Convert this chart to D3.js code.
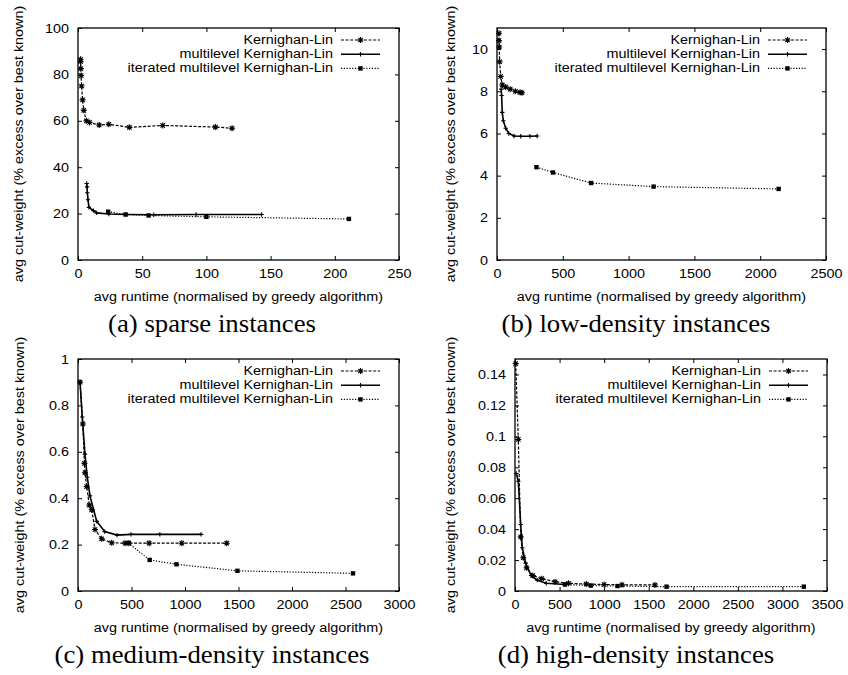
<!DOCTYPE html>
<html>
<head>
<meta charset="utf-8">
<script src="https://cdn.jsdelivr.net/npm/d3@7"></script>
<style>
  body { margin: 0; background: #fff; }
  svg { display: block; }
  .tick-label, .axis-title, .legend-text { font-family: "Liberation Sans", Arial, sans-serif; font-size: 12.5px; fill: #000; }
  .caption { font-family: "Liberation Serif", "Times New Roman", serif; font-size: 25px; fill: #000; }
</style>
</head>
<body>
<svg id="chart" width="848" height="675"></svg>
<script>
// ---- data: [runtime, cut-weight] ----
const seriesNames = ["Kernighan-Lin", "multilevel Kernighan-Lin", "iterated multilevel Kernighan-Lin"];

const sparseKL   = [[2,86.5],[2,85.5],[2.2,82.5],[2.4,79.5],[2.8,75],[3.6,69],[4.5,64.5],[6.5,60],[9,59.3],[16.5,58.2],[24,58.5],[40,57.2],[66,58],[107,57.3],[120,56.8]];
const sparseML   = [[6.8,33],[7,31.5],[7.3,29],[7.8,26],[8.5,22.7],[12,21.3],[14.5,20.3],[24,19.8],[38,19.6],[59,19.5],[92,19.6],[143,19.6]];
const sparseIter = [[23.5,20.8],[37,19.6],[55,19.2],[100,18.6],[211,17.7]];

const lowKL   = [[15,10.75],[15,10.4],[17,10.1],[20,9.4],[28,8.7],[40,8.3],[66,8.2],[100,8.1],[140,8.0],[175,7.95],[190,7.93]];
const lowML   = [[32,8.1],[35,7.8],[40,7.0],[48,6.6],[66,6.25],[90,6.0],[130,5.88],[180,5.87],[250,5.87],[305,5.88]];
const lowIter = [[300,4.4],[425,4.15],[715,3.65],[1190,3.48],[2140,3.37]];

const medKL   = [[19,0.9],[45,0.72],[60,0.55],[65,0.51],[81,0.45],[106,0.37],[128,0.35],[159,0.265],[221,0.225],[315,0.208],[440,0.206],[475,0.206],[665,0.206],[970,0.206],[1390,0.206]];
const medML   = [[19,0.9],[40,0.75],[65,0.59],[87,0.49],[112,0.41],[175,0.3],[250,0.256],[365,0.241],[495,0.244],[765,0.244],[1150,0.244]];
const medIter = [[470,0.207],[670,0.134],[920,0.115],[1490,0.087],[2570,0.076]];

const highKL   = [[8,0.147],[37,0.098],[64,0.035],[93,0.0215],[130,0.015],[200,0.01],[300,0.008],[450,0.006],[600,0.005],[800,0.0045],[1000,0.0042],[1200,0.004],[1570,0.0039]];
const highML   = [[15,0.076],[37,0.071],[64,0.043],[82,0.028],[120,0.018],[180,0.01],[250,0.007],[350,0.005],[560,0.0042]];
const highIter = [[560,0.0042],[850,0.0035],[1150,0.0032],[1700,0.0028],[3240,0.0028]];

const sparseXTicks = [0, 50, 100, 150, 200, 250];
const sparseYTicks = [0, 20, 40, 60, 80, 100];
const lowXTicks = [0, 500, 1000, 1500, 2000, 2500];
const lowYTicks = [0, 2, 4, 6, 8, 10];
const medXTicks = [0, 500, 1000, 1500, 2000, 2500, 3000];
const medYTicks = [0, 0.2, 0.4, 0.6, 0.8, 1];
const highXTicks = [0, 500, 1000, 1500, 2000, 2500, 3000, 3500];
const highYTicks = [0, 0.02, 0.04, 0.06, 0.08, 0.1, 0.12, 0.14];

const xTitle = "avg runtime (normalised by greedy algorithm)";
const yTitle = "avg cut-weight (% excess over best known)";

// layout of the four sub-figures
const panels = [
  {box: [78, 399, 28, 260],  xMax: 250,  yMax: 100,  xTicks: sparseXTicks, yTicks: sparseYTicks, series: [sparseKL, sparseML, sparseIter], yTitleX: 19,  capX: 212, caption: "(a) sparse instances"},
  {box: [497, 826, 28, 260], xMax: 2500, yMax: 11,   xTicks: lowXTicks,    yTicks: lowYTicks,    series: [lowKL, lowML, lowIter],          yTitleX: 451, capX: 636, caption: "(b) low-density instances"},
  {box: [78, 399, 359, 591], xMax: 3000, yMax: 1,    xTicks: medXTicks,    yTicks: medYTicks,    series: [medKL, medML, medIter],          yTitleX: 20,  capX: 212, caption: "(c) medium-density instances"},
  {box: [515, 827, 359, 591], xMax: 3500, yMax: 0.15, xTicks: highXTicks,  yTicks: highYTicks,   series: [highKL, highML, highIter],       yTitleX: 451, capX: 636, caption: "(d) high-density instances"}
];

// line styles: KL dashed + asterisk, ML solid + plus, iterated dotted + square
const styles = [
  {dash: "3,1.6", width: 1.2, marker: "asterisk"},
  {dash: null,    width: 1.6, marker: "plus"},
  {dash: "1.2,1.6", width: 1.2, marker: "square"}
];

const markerPaths = {
  asterisk: "M-3,0H3M0,-3V3M-2.2,-2.2L2.2,2.2M-2.2,2.2L2.2,-2.2",
  plus: "M-2.2,0H2.2M0,-2.2V2.2",
  square: "M-2.2,-2.2H2.2V2.2H-2.2Z"
};

const fmt = d3.format("~g");
const svg = d3.select("#chart");

function drawMarker(g, x, y, kind) {
  const p = g.append("path").attr("d", markerPaths[kind])
    .attr("transform", `translate(${x},${y})`);
  if (kind === "square") p.attr("fill", "#000").attr("stroke", "none");
  else p.attr("fill", "none").attr("stroke", "#000").attr("stroke-width", 1.1);
}

// the reference's Helvetica is a little wider than it is tall
function stretch(sel, k) {
  sel.each(function() {
    const w = this.getComputedTextLength();
    d3.select(this).attr("textLength", w * k).attr("lengthAdjust", "spacingAndGlyphs");
  });
}

panels.forEach(p => {
  const [left, right, top, bottom] = p.box;
  const x = d3.scaleLinear().domain([0, p.xMax]).range([left, right]);
  const y = d3.scaleLinear().domain([0, p.yMax]).range([bottom, top]);
  const g = svg.append("g");

  // axes with inward ticks, mirrored on top/right
  const tick = 4;
  g.append("g").attr("transform", `translate(0,${bottom})`)
    .call(d3.axisBottom(x).tickValues(p.xTicks).tickFormat(fmt).tickSizeInner(-tick).tickSizeOuter(0).tickPadding(9));
  g.append("g").attr("transform", `translate(0,${top})`)
    .call(d3.axisTop(x).tickValues(p.xTicks).tickFormat("").tickSizeInner(-tick).tickSizeOuter(0));
  g.append("g").attr("transform", `translate(${left},0)`)
    .call(d3.axisLeft(y).tickValues(p.yTicks).tickFormat(fmt).tickSizeInner(-tick).tickSizeOuter(0).tickPadding(9));
  g.append("g").attr("transform", `translate(${right},0)`)
    .call(d3.axisRight(y).tickValues(p.yTicks).tickFormat("").tickSizeInner(-tick).tickSizeOuter(0));
  g.selectAll(".domain").remove();
  g.selectAll(".tick line").attr("stroke", "#000").attr("stroke-width", 1);
  g.selectAll(".tick text").attr("class", "tick-label");
  g.selectAll("g").attr("font-size", null).attr("font-family", null);

  g.append("rect").attr("x", left).attr("y", top)
    .attr("width", right - left).attr("height", bottom - top)
    .attr("fill", "none").attr("stroke", "#000").attr("stroke-width", 1.3);

  // axis titles
  g.append("text").attr("class", "axis-title")
    .attr("x", (left + right) / 2).attr("y", bottom + 41)
    .attr("text-anchor", "middle").text(xTitle);
  g.append("text").attr("class", "axis-title")
    .attr("transform", `translate(${p.yTitleX},${(top + bottom) / 2}) rotate(-90)`)
    .attr("text-anchor", "middle").attr("dominant-baseline", "central").text(yTitle);

  // series
  const line = d3.line().x(d => x(d[0])).y(d => y(d[1]));
  p.series.forEach((data, i) => {
    const s = styles[i];
    g.append("path").datum(data).attr("d", line)
      .attr("fill", "none").attr("stroke", "#000")
      .attr("stroke-width", s.width).attr("stroke-dasharray", s.dash);
    data.forEach(d => drawMarker(g, x(d[0]), y(d[1]), s.marker));
  });

  // legend, top right inside the plot
  seriesNames.forEach((name, i) => {
    const s = styles[i];
    const ly = top + 12 + i * 14.2;
    g.append("text").attr("class", "legend-text")
      .attr("x", right - 66).attr("y", ly)
      .attr("text-anchor", "end").attr("dominant-baseline", "central").text(name);
    g.append("line").attr("x1", right - 58).attr("x2", right - 19)
      .attr("y1", ly).attr("y2", ly)
      .attr("stroke", "#000").attr("stroke-width", s.width).attr("stroke-dasharray", s.dash);
    drawMarker(g, right - 38.5, ly, s.marker);
  });

  // caption
  g.append("text").attr("class", "caption")
    .attr("x", p.capX).attr("y", bottom + 72)
    .attr("text-anchor", "middle").text(p.caption);
});

stretch(svg.selectAll(".tick-label, .axis-title, .legend-text"), 1.15);
stretch(svg.selectAll(".caption"), 1.07);
</script>
</body>
</html>
